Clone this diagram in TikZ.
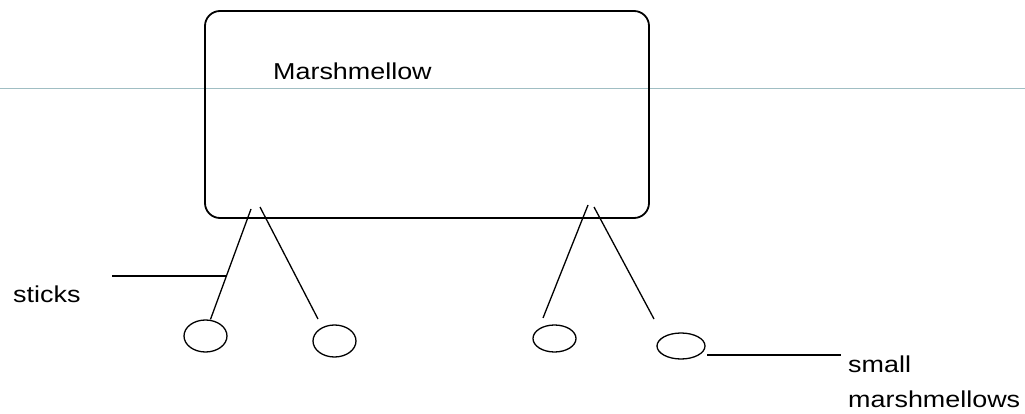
\documentclass[tikz,border=0pt]{standalone}
\usepackage{fontspec}
\usepackage{xcolor}
\usepackage{tikz}
\usetikzlibrary{shapes.geometric, positioning, calc}
\newfontfamily\paintfont[FakeStretch=1.17]{Liberation Sans}
\definecolor{guidegray}{RGB}{160,190,195}

\begin{document}
\begin{tikzpicture}[
    x=1pt, y=-1pt,
    font=\paintfont\fontsize{23}{35}\selectfont,
    % Styles
    bigbox/.style={draw, rounded corners=15pt, minimum width=444pt, minimum height=207pt, line width=1.8pt, inner sep=0pt},
    smallmm/.style={draw, ellipse, inner sep=0pt, line width=1.3pt},
    stick/.style={line width=1.3pt},
    pointer/.style={line width=1.5pt},
    labeltext/.style={inner sep=0pt, anchor=base west, align=left}
]
\useasboundingbox (0,0) rectangle (1025,414);

% ========== Guide line ==========
\coordinate (gl) at (0,89);
\coordinate (gr) at (1025,89);
\draw[guidegray, line width=1pt] (gl) -- (gr);

% ========== Big marshmellow ==========
\node[bigbox] (mm) at (427,114.5) {};
\node[labeltext] (mmlabel) at (273,80) {Marshmellow};

% ========== Small marshmellows ==========
\node[smallmm, minimum width=43pt, minimum height=32pt] (mm1) at (205.5,336) {};
\node[smallmm, minimum width=43pt, minimum height=32pt] (mm2) at (334.5,341) {};
\node[smallmm, minimum width=43pt, minimum height=27pt] (mm3) at (554.5,338.5) {};
\node[smallmm, minimum width=48pt, minimum height=26pt] (mm4) at (681,346) {};

% ========== Sticks ==========
\coordinate (s1top) at (251,209);
\coordinate (s2top) at (260,207);
\coordinate (s3top) at (588,205);
\coordinate (s4top) at (594,207);
\coordinate (s2end) at (318,319);
\coordinate (s3end) at (543,318);
\coordinate (s4end) at (654,319);
\draw[stick] (s1top) -- ($(mm1.north)+(5,0)$);
\draw[stick] (s2top) -- (s2end);
\draw[stick] (s3top) -- (s3end);
\draw[stick] (s4top) -- (s4end);

% ========== Labels ==========
\node[labeltext] (stickslabel) at (13,302) {sticks};
\coordinate (stickspt) at (227,276);
\draw[pointer] (stickspt) -- ++(-115,0);

\node[labeltext] (smalllabel) at (848,407) {small\\marshmellows};
\coordinate (smallpt) at (707,355);
\draw[pointer] (smallpt) -- ++(134,0);

\end{tikzpicture}
\end{document}
